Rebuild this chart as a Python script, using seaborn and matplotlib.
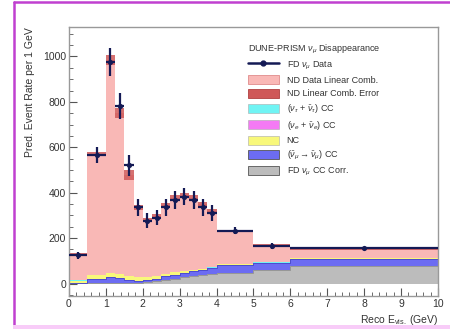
import numpy as np
import pandas as pd
import seaborn as sns
import matplotlib
matplotlib.use("Agg")
import matplotlib.pyplot as plt
from matplotlib.patches import Patch, Rectangle
from matplotlib.lines import Line2D
from matplotlib.ticker import MultipleLocator

# ---------------- data ----------------
bin_edges = [0, 0.5, 1.0, 1.25, 1.5, 1.75, 2.0, 2.25, 2.5, 2.75, 3.0, 3.25,
             3.5, 3.75, 4.0, 5.0, 6.0, 10.0]
fd_corr = [2, 3, 3, 3, 3, 4, 7, 10, 16, 22, 28, 31, 36, 42, 48, 58, 78]
wrong_sign = [2, 17, 27, 21, 13, 9, 9, 9, 15, 16, 20, 23, 24, 25, 33, 31, 30]
nc = [8, 16, 17, 18, 18, 17, 14, 15, 11, 12, 8, 5, 4, 3, 3, 3, 3]
nue = [0.5, 0.5, 0.5, 0.5, 0.5, 0.5, 0.5, 0.5, 0.5, 0.5, 0.5, 0.5, 0.5, 0.5,
       0.5, 0.5, 0.5]
nutau = [1, 0.3, 0.3, 0.3, 0.3, 0.3, 0.3, 0.3, 0.3, 0.3, 0.3, 0.3, 0.3, 0.3,
         0.3, 0.3, 0.3]
nd_total = [130, 570, 985, 752, 478, 335, 280, 298, 345, 378, 390, 378, 350,
            318, 232, 168, 152]
nd_err = [6, 10, 22, 22, 20, 12, 10, 10, 10, 10, 10, 10, 10, 10, 5, 5, 4]
fd_data = [125, 566, 977, 782, 521, 336, 276, 290, 336, 368, 383, 368, 336,
           309, 233, 166, 155]
fd_data_err = [16, 34, 62, 56, 46, 37, 33, 34, 37, 38, 39, 38, 37, 35, 15, 13, 6]

leg_title = "DUNE-PRISM $\\nu_{\\mu}$ Disappearance"
labels = ["FD $\\nu_{\\mu}$ Data",
          "ND Data Linear Comb.",
          "ND Linear Comb. Error",
          "$(\\nu_{\\tau}$ + $\\bar{\\nu}_{\\tau})$ CC",
          "$(\\nu_{e}$ + $\\bar{\\nu}_{e})$ CC",
          "NC",
          "$(\\bar{\\nu}_{\\mu} \\rightarrow \\bar{\\nu}_{\\mu})$ CC",
          "FD $\\nu_{\\mu}$ CC Corr."]

# ---------------- style ----------------
sns.set_theme(style="ticks")
plt.rcParams["font.family"] = ["Liberation Sans", "DejaVu Sans"]
plt.rcParams["mathtext.fontset"] = "custom"
plt.rcParams["mathtext.rm"] = "Liberation Sans"
plt.rcParams["mathtext.it"] = "Liberation Sans:italic"

c_pink = "#f9b8b6"
c_err = "#cf5858"
c_cyan = "#70f4f4"
c_mag = "#f47af4"
c_yel = "#f8f87a"
c_blue = "#6c6cf2"
c_gray = "#bcbcbc"
c_data = "#141a55"
c_text = "#333333"

fig = plt.figure(figsize=(4.5, 3.29), dpi=100)
ax = fig.add_axes([0.1533, 0.1003, 0.82, 0.8177])

edges = np.array(bin_edges)
centers = 0.5 * (edges[1:] + edges[:-1])
halfw = 0.5 * (edges[1:] - edges[:-1])

layers = [(fd_corr, c_gray), (wrong_sign, c_blue), (nc, c_yel),
          (nue, c_mag), (nutau, c_cyan)]
base = np.zeros(len(centers))
for vals, col in layers:
    top = base + np.array(vals, dtype=float)
    ax.stairs(top, edges, baseline=base, fill=True, color=col, lw=0)
    base = top
ax.stairs(np.array(fd_corr, float), edges, baseline=None, color="#888888", lw=0.5)
ax.stairs(np.array(fd_corr, float) + np.array(wrong_sign, float), edges,
          baseline=None, color="#4848c8", lw=0.6)

tot = np.array(nd_total, dtype=float)
ax.stairs(tot, edges, baseline=base, fill=True, color=c_pink, lw=0)
# error band
err = np.array(nd_err, dtype=float)
ax.bar(centers, 2 * err, width=2 * halfw, bottom=tot - err, color=c_err,
       alpha=0.85, lw=0, align="center")

# data
df = pd.DataFrame({"x": centers, "y": fd_data})
ax.errorbar(centers, fd_data, xerr=halfw, yerr=fd_data_err, fmt="none",
            ecolor=c_data, elinewidth=1.6, capsize=0, zorder=5)
sns.scatterplot(data=df, x="x", y="y", ax=ax, color=c_data, s=14,
                edgecolor=c_data, linewidth=0, zorder=6, legend=False)

# axes
ax.set_xlim(0, 10)
ax.set_ylim(-55, 1130)
ax.xaxis.set_major_locator(MultipleLocator(1))
ax.xaxis.set_minor_locator(MultipleLocator(0.2))
ax.yaxis.set_major_locator(MultipleLocator(200))
ax.yaxis.set_minor_locator(MultipleLocator(50))
ax.tick_params(which="both", direction="in", colors="#555555",
               labelcolor=c_text, labelsize=7.5, top=False, right=False)
ax.tick_params(which="major", length=6, width=0.8, pad=2)
ax.tick_params(which="minor", length=3, width=0.6)
for s in ax.spines.values():
    s.set_color("#999999")
    s.set_linewidth(1.0)

ax.set_xlabel("Reco E$_{\\rm vis.}$ (GeV)", fontsize=7.5, color=c_text,
              ha="right", x=1.0, labelpad=3)
ax.set_ylabel("Pred. Event Rate per 1 GeV", fontsize=7.5, color=c_text,
              ha="right", y=1.0, labelpad=6)

# legend
handles = [
    Line2D([0], [0], color=c_data, lw=1.8, marker="o", markersize=3.5),
    Patch(facecolor=c_pink, edgecolor="#e08c8c", lw=0.6),
    Patch(facecolor=c_err, edgecolor="#b04040", lw=0.6),
    Patch(facecolor=c_cyan, edgecolor="#aaaaaa", lw=0.4),
    Patch(facecolor=c_mag, edgecolor="#aaaaaa", lw=0.4),
    Patch(facecolor=c_yel, edgecolor="#aaaaaa", lw=0.4),
    Patch(facecolor=c_blue, edgecolor="#555555", lw=0.6),
    Patch(facecolor=c_gray, edgecolor="#555555", lw=0.6),
]
leg = ax.legend(handles, labels, title=leg_title, loc="upper left",
                bbox_to_anchor=(0.475, 0.955), frameon=False, fontsize=6.5,
                title_fontsize=6.5, handlelength=3.4, handleheight=1.15,
                labelspacing=0.42, handletextpad=0.9, borderaxespad=0)
leg._legend_box.align = "left"
for t in leg.get_texts():
    t.set_color(c_text)
leg.get_title().set_color(c_text)

# outer magenta frame (left and top edges) and light pink bottom strip
fig.add_artist(Line2D([13.5 / 450, 13.5 / 450], [4 / 329, 1 - 1.5 / 329],
                      transform=fig.transFigure, color="#c040d0", lw=1.8))
fig.add_artist(Line2D([13.5 / 450, 1.0], [1 - 1.5 / 329, 1 - 1.5 / 329],
                      transform=fig.transFigure, color="#c040d0", lw=1.8))
fig.patches.append(Rectangle((13 / 450, 0), 1, 4 / 329,
                             transform=fig.transFigure, facecolor="#f8ccf8",
                             lw=0, zorder=9))

fig.savefig("out.png", dpi=100)
